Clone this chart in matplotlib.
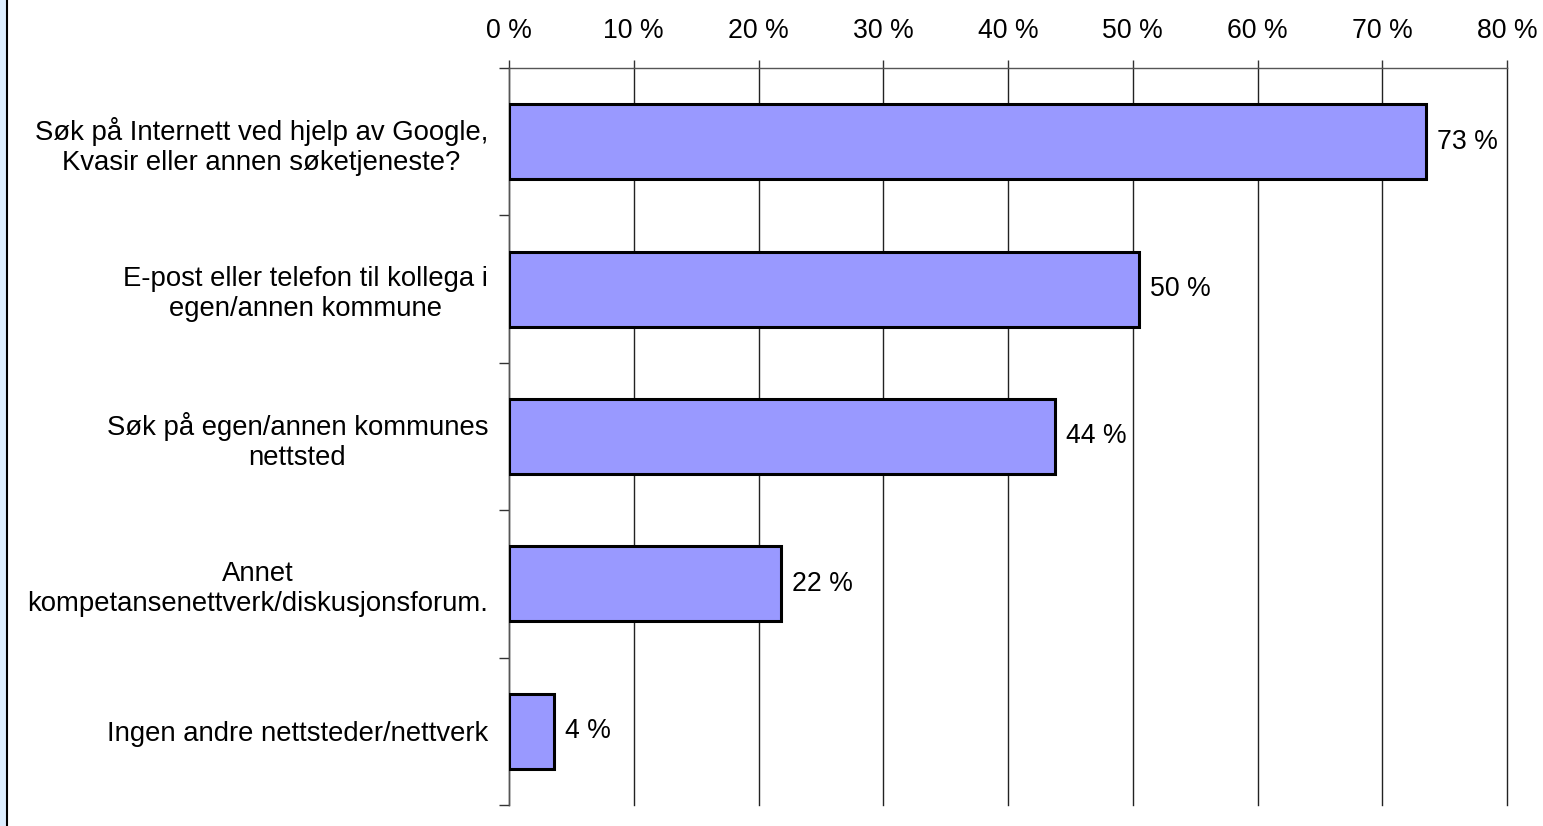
import matplotlib
matplotlib.use("Agg")
import matplotlib.pyplot as plt
from matplotlib.patches import Rectangle
from matplotlib.lines import Line2D
import numpy as np

categories = [
    "Søk på Internett ved hjelp av Google,\nKvasir eller annen søketjeneste?",
    "E-post eller telefon til kollega i\negen/annen kommune",
    "Søk på egen/annen kommunes\nnettsted",
    "Annet\nkompetansenettverk/diskusjonsforum.",
    "Ingen andre nettsteder/nettverk",
]
values = [73.5, 50.5, 43.8, 21.8, 3.6]
value_labels = ["73 %", "50 %", "44 %", "22 %", "4 %"]
xticks = [0, 10, 20, 30, 40, 50, 60, 70, 80]
xtick_labels = ["0 %", "10 %", "20 %", "30 %", "40 %", "50 %", "60 %", "70 %", "80 %"]

plt.rcParams['font.family'] = ['Liberation Sans', 'DejaVu Sans']

W, H = 1543, 826
fig = plt.figure(figsize=(W / 100, H / 100), dpi=100)
fig.patch.set_facecolor("white")

ax = fig.add_axes([509 / W, 1 - 805 / H, (1507 - 509) / W, (805 - 68) / H])
ax.set_facecolor("white")

y = np.arange(len(categories))
ax.barh(y, values, height=0.51, color="#9999FF", edgecolor="black", linewidth=2.2, zorder=3)

for yi, v, lab in zip(y, values, value_labels):
    ax.text(v + 0.85, yi, lab, va="center", ha="left", fontsize=19.2, color="black", zorder=4)

ax.set_xlim(0, 80)
ax.set_ylim(len(categories) - 0.5, -0.5)

ax.xaxis.tick_top()
ax.set_xticks(xticks)
ax.set_xticklabels(xtick_labels, fontsize=19.2)
ax.tick_params(axis="x", direction="out", length=6, width=1, color="#333333", pad=11)

ax.set_yticks(np.arange(len(categories) + 1) - 0.5)
ax.set_yticklabels([])
ax.set_yticks(y, minor=True)
ax.set_yticklabels(categories, minor=True, fontsize=19.8)
ax.tick_params(axis="y", which="major", direction="out", length=7, width=1, color="#333333")
ax.tick_params(axis="y", which="minor", length=0, pad=15)
for lbl in ax.get_yticklabels(minor=True):
    lbl.set_multialignment("center")
    lbl.set_linespacing(1.2)

for xv in xticks:
    ax.axvline(xv, color="#222222", linewidth=1, zorder=0, clip_on=False)
for s in ["right", "bottom"]:
    ax.spines[s].set_visible(False)
ax.spines["left"].set_color("#555555")
ax.spines["top"].set_color("#555555")
ax.spines["left"].set_linewidth(1)
ax.spines["top"].set_linewidth(1)

# left border strip
fig.add_artist(Rectangle((0, 0), 7 / W, 1, transform=fig.transFigure,
                         facecolor="#DDEEFF", edgecolor="none"))
fig.add_artist(Line2D([7.5 / W, 7.5 / W], [0, 1], transform=fig.transFigure,
                      color="black", linewidth=1.5))

fig.savefig("out.png", dpi=100)
